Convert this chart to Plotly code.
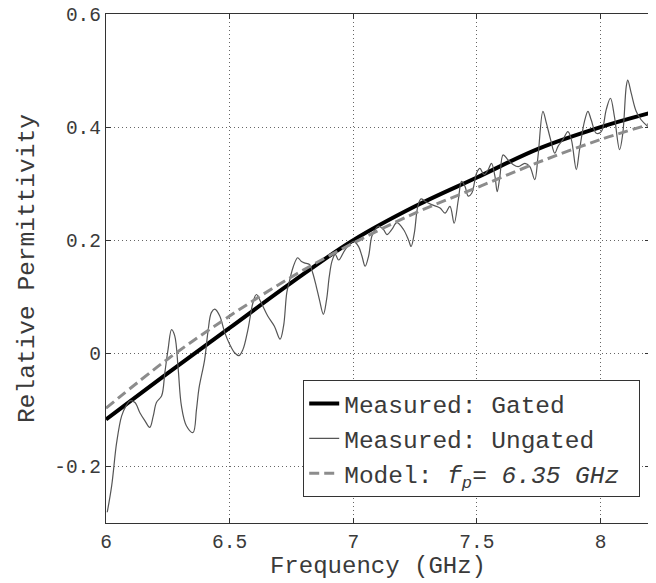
import plotly.graph_objects as go

# Frequency grid (GHz) and values
gated_f = [6.0, 6.25, 6.5, 6.75, 7.0, 7.25, 7.5, 7.75, 8.0, 8.2]
gated_eps = [-0.117, -0.035, 0.045, 0.125, 0.200, 0.260, 0.311, 0.362, 0.400, 0.425]

model_f = [6.0, 6.25, 6.5, 6.75, 7.0, 7.25, 7.5, 7.75, 8.0, 8.2]
model_eps = [-0.097, -0.010, 0.066, 0.135, 0.195, 0.248, 0.293, 0.338, 0.378, 0.405]

ungated_f = [6.005, 6.023, 6.043, 6.063, 6.081, 6.097, 6.117, 6.137, 6.157, 6.177,
             6.191, 6.204, 6.225, 6.238, 6.251, 6.265, 6.278, 6.292, 6.305, 6.325,
             6.352, 6.366, 6.376, 6.399, 6.412, 6.426, 6.440, 6.460, 6.480, 6.500,
             6.520, 6.538, 6.554, 6.574, 6.594, 6.608, 6.628, 6.654, 6.681, 6.704,
             6.718, 6.731, 6.742, 6.758, 6.775, 6.789, 6.802, 6.823, 6.836, 6.850,
             6.863, 6.879, 6.892, 6.903, 6.914, 6.927, 6.941, 6.968, 7.001, 7.021,
             7.035, 7.048, 7.062, 7.075, 7.089, 7.102, 7.122, 7.136, 7.156, 7.176,
             7.203, 7.223, 7.234, 7.247, 7.261, 7.274, 7.290, 7.317, 7.351, 7.371,
             7.391, 7.408, 7.425, 7.438, 7.452, 7.465, 7.479, 7.499, 7.512, 7.529,
             7.546, 7.559, 7.573, 7.582, 7.593, 7.606, 7.626, 7.646, 7.667, 7.694,
             7.714, 7.734, 7.747, 7.767, 7.781, 7.798, 7.815, 7.828, 7.848, 7.868,
             7.882, 7.902, 7.915, 7.935, 7.949, 7.962, 7.983, 8.003, 8.023, 8.040,
             8.056, 8.077, 8.090, 8.104, 8.110, 8.124, 8.144, 8.164, 8.191]
ungated_eps = [-0.281, -0.234, -0.158, -0.111, -0.093, -0.084, -0.087, -0.105, -0.119, -0.131,
               -0.111, -0.087, -0.075, -0.034, 0.007, 0.042, 0.031, -0.028, -0.093, -0.128,
               -0.140, -0.099, -0.062, -0.011, 0.037, 0.072, 0.078, 0.066, 0.037, 0.016,
               0.001, -0.004, 0.007, 0.042, 0.089, 0.104, 0.089, 0.066, 0.048, 0.025,
               0.048, 0.107, 0.128, 0.154, 0.169, 0.163, 0.160, 0.157, 0.142, 0.119,
               0.095, 0.069, 0.095, 0.136, 0.163, 0.175, 0.165, 0.184, 0.198, 0.189,
               0.172, 0.154, 0.172, 0.207, 0.219, 0.225, 0.219, 0.210, 0.219, 0.231,
               0.219, 0.201, 0.189, 0.213, 0.260, 0.273, 0.269, 0.263, 0.257, 0.248,
               0.260, 0.230, 0.272, 0.304, 0.295, 0.278, 0.283, 0.319, 0.327, 0.316,
               0.325, 0.336, 0.313, 0.286, 0.313, 0.351, 0.342, 0.334, 0.330, 0.336,
               0.330, 0.307, 0.348, 0.428, 0.407, 0.378, 0.354, 0.366, 0.378, 0.392,
               0.378, 0.325, 0.360, 0.410, 0.428, 0.413, 0.389, 0.392, 0.431, 0.451,
               0.419, 0.360, 0.389, 0.472, 0.483, 0.460, 0.428, 0.413, 0.401]

x_tickvals = [6, 6.5, 7, 7.5, 8]
x_ticktext = ["6", "6.5", "7", "7.5", "8"]
y_tickvals = [-0.2, 0, 0.2, 0.4, 0.6]
y_ticktext = ["-0.2", "0", "0.2", "0.4", "0.6"]

FONT = "Liberation Mono, Courier New, monospace"
TXT = "#3a3a3a"

fig = go.Figure()
fig.add_trace(go.Scatter(x=gated_f, y=gated_eps, mode="lines", line_shape="spline",
                         name="Measured: Gated",
                         line=dict(color="black", width=4)))
fig.add_trace(go.Scatter(x=ungated_f, y=ungated_eps, mode="lines", line_shape="spline",
                         name="Measured: Ungated",
                         line=dict(color="#555555", width=1.2)))
fig.add_trace(go.Scatter(x=model_f, y=model_eps, mode="lines", line_shape="spline",
                         name="Model: <i>f</i><sub><i>p</i></sub><i>= 6.35 GHz</i>\u00a0",
                         line=dict(color="#8c8c8c", width=3, dash="10px,5px")))

axis_common = dict(showline=True, linecolor="#333333", linewidth=1.2, mirror="ticks",
                   ticks="inside", ticklen=5, tickcolor="#333333",
                   showgrid=True, gridcolor="#666666", gridwidth=1, griddash="1px,3px",
                   zeroline=False, automargin=False, ticklabeloverflow="allow",
                   tickfont=dict(family=FONT, size=19.5, color=TXT))

fig.update_xaxes(range=[6, 8.2], tickvals=x_tickvals, ticktext=x_ticktext,
                 title=dict(text="Frequency (GHz)", font=dict(family=FONT, size=24, color=TXT),
                            standoff=2),
                 **axis_common)
fig.update_yaxes(range=[-0.3, 0.6], tickvals=y_tickvals, ticktext=y_ticktext,
                 title=dict(text="Relative Permittivity", font=dict(family=FONT, size=24.5, color=TXT),
                            standoff=12),
                 **axis_common)

# The page body has an 8px margin, so the figure is sized to fit inside it.
fig.update_layout(
    width=648, height=575,
    margin=dict(l=98, r=6, t=6, b=60),
    paper_bgcolor="white", plot_bgcolor="white",
    font=dict(family=FONT, color=TXT),
    legend=dict(x=0.982, y=0.051, xanchor="right", yanchor="bottom",
                bgcolor="white", bordercolor="#333333", borderwidth=1,
                font=dict(family=FONT, size=24.5, color=TXT),
                tracegroupgap=0),
    showlegend=True,
)

fig.write_html("out.html")
